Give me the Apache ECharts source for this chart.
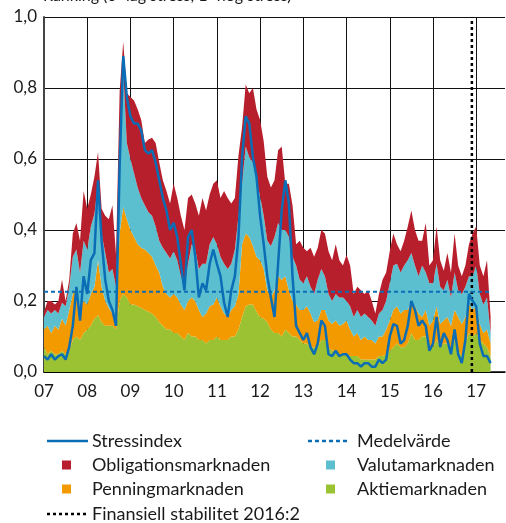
<!DOCTYPE html>
<html>
<head>
<meta charset="utf-8">
<script src="https://cdn.jsdelivr.net/npm/echarts@6/dist/echarts.min.js"></script>
<style>
  html, body { margin: 0; padding: 0; background: #fff; }
  #chart { width: 506px; height: 523px; }
</style>
</head>
<body>
<div id="chart"></div>
<script>
// månadsvärden jan 2007 - maj 2017
const startYear = 2007;
const axisMonths = 129; // axeln går till sep 2017

// Aktiemarknaden (grön, längst ner)
const aktie = [
  .07, .05, .06, .05, .05, .06, .05, .06, .09, .10, .09, .11,
  .12, .13, .15, .16, .14, .13, .13, .13, .12, .20, .22, .21,
  .19, .19, .185, .18, .175, .17, .165, .155, .14, .13, .12, .12,
  .11, .11, .10, .09, .11, .10, .10, .09, .09, .08, .09, .09,
  .10, .09, .09, .09, .10, .10, .12, .155, .185, .19, .19, .17,
  .155, .15, .14, .12, .11, .11, .10, .12, .11, .10, .10, .09,
  .08, .08, .07, .07, .07, .09, .09, .07, .06, .06, .05, .05,
  .05, .045, .045, .045, .035, .035, .035, .035, .035, .045, .045, .05,
  .06, .07, .08, .07, .07, .08, .11, .09, .09, .10, .10, .07,
  .07, .09, .07, .08, .08, .06, .09, .06, .045, .08, .11, .10,
  .11, .09, .08, .07, .045
];

// Penningmarknaden (orange)
const penning = [
  .05, .08, .05, .08, .07, .09, .08, .115, .13, .14, .09, .09,
  .07, .09, .09, .155, .10, .07, .05, .035, .03, .19, .245, .22,
  .21, .19, .175, .17, .17, .165, .16, .145, .14, .11, .10, .09,
  .11, .10, .09, .085, .09, .11, .10, .085, .065, .085, .095, .10,
  .11, .095, .075, .065, .075, .085, .10, .205, .205, .19, .165, .155,
  .16, .14, .09, .09, .12, .16, .16, .15, .12, .10, .09, .085,
  .095, .105, .095, .07, .075, .085, .085, .075, .075, .085, .08, .085,
  .095, .075, .055, .065, .055, .065, .055, .055, .045, .055, .055, .07,
  .085, .105, .105, .095, .105, .095, .09, .095, .075, .055, .075, .06,
  .075, .095, .065, .065, .075, .07, .085, .095, .09, .075, .08, .075,
  .075, .045, .03, .05, .035
];

// Valutamarknaden (ljusblå)
const valuta = [
  .035, .045, .055, .045, .045, .045, .055, .065, .105, .105, .10, .17,
  .155, .19, .205, .215, .15, .135, .10, .125, .09, .17, .385, .215,
  .20, .18, .16, .14, .125, .115, .115, .11, .09, .11, .115, .11,
  .12, .105, .08, .075, .105, .15, .145, .115, .15, .14, .175, .19,
  .15, .14, .14, .135, .13, .16, .22, .17, .245, .225, .235, .215,
  .18, .15, .14, .145, .15, .15, .14, .13, .15, .125, .11, .085,
  .075, .085, .075, .08, .115, .115, .095, .075, .065, .075, .08, .075,
  .055, .065, .055, .065, .065, .065, .065, .055, .05, .065, .075, .08,
  .105, .125, .12, .115, .125, .14, .135, .115, .105, .145, .105, .12,
  .105, .12, .105, .085, .105, .08, .105, .075, .085, .085, .08, .095,
  .115, .085, .08, .09, .03
];

// Obligationsmarknaden (röd, överst)
const oblig = [
  .015, .025, .035, .015, .035, .065, .015, .02, .065, .075, .09, .14,
  .115, .09, .105, .09, .07, .105, .15, .18, .09, .23, .08, .14,
  .175, .205, .22, .22, .175, .205, .22, .235, .22, .19, .175, .155,
  .19, .175, .17, .15, .185, .14, .13, .15, .185, .15, .14, .15,
  .18, .165, .205, .20, .17, .145, .17, .16, .175, .18, .21, .20,
  .215, .21, .18, .165, .16, .205, .235, .13, .15, .145, .06, .11,
  .10, .07, .11, .105, .09, .11, .12, .12, .115, .14, .105, .09,
  .13, .115, .065, .065, .075, .055, .075, .055, .035, .055, .085, .08,
  .09, .09, .055, .06, .07, .095, .12, .10, .10, .07, .14, .05,
  .065, .105, .075, .055, .075, .07, .11, .07, .05, .06, .09, .12,
  .11, .08, .08, .105, .045
];

// Stressindex (linje)
const stress = [
  .045, .035, .05, .035, .045, .05, .035, .07, .13, .24, .145, .27,
  .22, .315, .335, .54, .37, .26, .20, .175, .13, .58, .89, .775,
  .72, .70, .70, .68, .625, .615, .625, .59, .54, .49, .455, .40,
  .42, .38, .305, .23, .38, .40, .325, .21, .25, .23, .305, .345,
  .305, .27, .195, .155, .23, .27, .38, .605, .72, .70, .605, .55,
  .44, .36, .27, .21, .155, .305, .455, .54, .475, .27, .13, .11,
  .09, .11, .07, .05, .08, .145, .13, .05, .045, .06, .045, .05,
  .05, .035, .025, .025, .015, .025, .025, .015, .015, .035, .025, .035,
  .10, .135, .13, .08, .09, .13, .20, .175, .13, .145, .13, .06,
  .08, .155, .07, .11, .09, .05, .12, .05, .025, .09, .22, .20,
  .185, .08, .045, .045, .025
];

const medelvarde = 0.226;
const fsDate = 2016.9; // Finansiell stabilitet 2016:2

// kategorier: en per månad
const months = [];
for (let i = 0; i < axisMonths; i++) {
  const y = startYear + Math.floor(i / 12);
  const m = (i % 12) + 1;
  months.push(y + '-' + (m < 10 ? '0' + m : m));
}
const isJan = (i) => i % 12 === 0;

const FONT = 'Lato';
const col = {
  stress: '#0b6db5',
  oblig: '#b81f2d',
  valuta: '#5bbfcf',
  penning: '#f39a00',
  aktie: '#9bc232'
};

const areaSeries = (name, data, color) => ({
  name,
  type: 'line',
  stack: 'total',
  symbol: 'none',
  lineStyle: { width: 0 },
  areaStyle: { color, opacity: 1 },
  itemStyle: { color },
  data
});

const chart = echarts.init(document.getElementById('chart'));

// legend ritas för hand
const legendText = (y, x, text) => ({
  type: 'text', x, y,
  style: { text, font: '18px ' + FONT, fill: '#1a1a1a', verticalAlign: 'middle' }
});
const square = (x, y, fill) => ({
  type: 'rect', shape: { x: x, y: y - 4.5, width: 9, height: 9 }, style: { fill }
});

const option = {
  animation: false,
  grid: { left: 44, right: 1, top: 17, bottom: 151 },
  xAxis: [
    {
      type: 'category',
      data: months,
      boundaryGap: false,
      axisLine: { lineStyle: { color: '#000', width: 1.5 } },
      axisTick: { show: false },
      splitLine: { show: true, interval: isJan, lineStyle: { color: '#111', width: 1 } },
      axisLabel: {
        interval: isJan,
        color: '#1a1a1a',
        fontFamily: FONT,
        fontSize: 17,
        margin: 11,
        formatter: v => v.slice(2, 4)
      }
    },
    {
      // dold tidsaxel för FS-linjen
      type: 'value',
      show: false,
      min: startYear,
      max: startYear + (axisMonths - 1) / 12
    }
  ],
  yAxis: {
    type: 'value',
    min: 0,
    max: 1,
    interval: 0.2,
    axisLine: { show: true, lineStyle: { color: '#444', width: 2 } },
    axisTick: { show: false },
    splitLine: { show: true, lineStyle: { color: '#111', width: 1 } },
    axisLabel: {
      color: '#1a1a1a',
      fontFamily: FONT,
      fontSize: 17,
      margin: 7,
      formatter: v => v.toFixed(1).replace('.', ',')
    }
  },
  series: [
    {
      name: 'Finansiell stabilitet 2016:2',
      type: 'line',
      xAxisIndex: 1,
      symbol: 'none',
      lineStyle: { color: '#000', width: 2.5, type: [3, 3] },
      data: [[fsDate, 0], [fsDate, 1]]
    },
    areaSeries('Aktiemarknaden', aktie, col.aktie),
    areaSeries('Penningmarknaden', penning, col.penning),
    areaSeries('Valutamarknaden', valuta, col.valuta),
    areaSeries('Obligationsmarknaden', oblig, col.oblig),
    {
      name: 'Medelvärde',
      type: 'line',
      symbol: 'none',
      lineStyle: { color: col.stress, width: 2, type: [4, 3] },
      data: stress.map(() => medelvarde)
    },
    {
      name: 'Stressindex',
      type: 'line',
      symbol: 'none',
      lineStyle: { color: col.stress, width: 2.5 },
      data: stress
    }
  ],
  graphic: [
    {
      type: 'text', x: 43, y: -12,
      style: { text: 'Ranking (0=låg stress, 1=hög stress)', font: '16px ' + FONT, fill: '#1a1a1a' }
    },
    { type: 'line', shape: { x1: 47, y1: 441, x2: 88, y2: 441 }, style: { stroke: col.stress, lineWidth: 2.5 } },
    legendText(441, 92, 'Stressindex'),
    { type: 'line', shape: { x1: 308, y1: 441, x2: 348, y2: 441 }, style: { stroke: col.stress, lineWidth: 2.5, lineDash: [4, 3] } },
    legendText(441, 357, 'Medelvärde'),
    square(62, 465, col.oblig),
    legendText(465, 92, 'Obligationsmarknaden'),
    square(326, 465, col.valuta),
    legendText(465, 357, 'Valutamarknaden'),
    square(62, 489, col.penning),
    legendText(489, 92, 'Penningmarknaden'),
    square(326, 489, col.aktie),
    legendText(489, 357, 'Aktiemarknaden'),
    { type: 'line', shape: { x1: 47, y1: 514, x2: 88, y2: 514 }, style: { stroke: '#000', lineWidth: 2.5, lineDash: [3, 3] } },
    legendText(514, 92, 'Finansiell stabilitet 2016:2')
  ]
};

chart.setOption(option);
</script>
</body>
</html>
